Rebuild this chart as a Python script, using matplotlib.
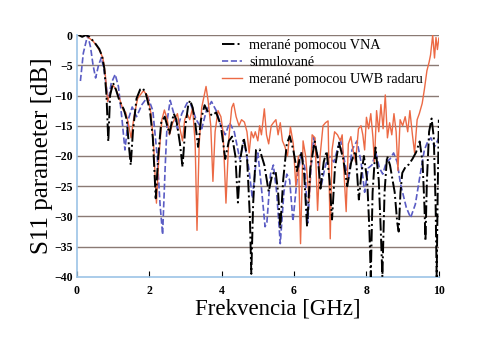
import matplotlib
matplotlib.use('Agg')
import matplotlib.pyplot as plt
import numpy as np

# S11 merane pomocou VNA
vna_f = [0.05, 0.15, 0.25, 0.35, 0.5, 0.62, 0.7, 0.76, 0.82, 0.87, 0.92, 1.0, 1.08, 1.18, 1.3,
         1.38, 1.45, 1.49, 1.55, 1.65, 1.75, 1.82, 1.9, 2.02, 2.1, 2.18, 2.25, 2.33, 2.43, 2.52,
         2.56, 2.62, 2.68, 2.75, 2.85, 2.92, 3.0, 3.08, 3.13, 3.2, 3.27, 3.35, 3.43, 3.53, 3.6,
         3.73, 3.85, 3.98, 4.1, 4.2, 4.29, 4.38, 4.45, 4.53, 4.61, 4.7, 4.78, 4.82, 4.87, 4.95,
         5.05, 5.18, 5.3, 5.4, 5.49, 5.56, 5.62, 5.7, 5.8, 5.88, 5.98, 6.08, 6.2, 6.28, 6.36,
         6.45, 6.57, 6.66, 6.73, 6.82, 6.9, 6.98, 7.05, 7.13, 7.24, 7.36, 7.47, 7.58, 7.7, 7.79,
         7.86, 7.93, 8.02, 8.08, 8.12, 8.17, 8.25, 8.34, 8.4, 8.44, 8.5, 8.57, 8.65, 8.78, 8.85,
         8.89, 8.94, 8.99, 9.08, 9.17, 9.27, 9.37, 9.47, 9.55, 9.6, 9.63, 9.67, 9.73, 9.8, 9.86,
         9.91, 9.94, 9.97, 10.0]
vna_db = [0, -0.3, 0, -0.3, -1.3, -2.3, -3.5, -5.5, -10, -17.6, -10, -7.9, -9, -10.9, -12.3,
          -14, -19, -21.5, -16, -10.5, -9, -8.8, -9.5, -12.5, -17, -27, -20, -14.5, -13.5, -15.5,
          -16.3, -14.5, -13, -14, -18, -21.8, -15, -11.5, -10.8, -12, -14.5, -18.5, -14, -11.6, -12.5,
          -13.3, -12.8, -15, -20.5, -17.5, -16.8, -20, -27.7, -20, -17, -20, -30, -39.5, -28, -19,
          -18.9, -21.5, -25.9, -23, -22.5, -26, -32, -24, -18, -16.7, -19, -22.5, -19.3, -23, -31.7,
          -22, -17.6, -20.5, -25.4, -21, -19.2, -24, -30.5, -22, -17.8, -20.5, -25, -21, -19.2, -27.2,
          -23, -20, -24, -32, -40, -26, -18.6, -24, -33, -40, -26, -20, -21.5, -26, -31,
          -32.5, -26, -22.8, -21.8, -21.4, -20.5, -19.4, -17.6, -21, -28, -34, -24, -16, -13.8, -17,
          -28, -40, -25, -14]

# simulovane
sim_f = [0.1, 0.18, 0.3, 0.38, 0.45, 0.52, 0.6, 0.68, 0.76, 0.87, 0.95, 1.06, 1.15, 1.25, 1.33,
         1.42, 1.53, 1.65, 1.8, 1.96, 2.1, 2.22, 2.3, 2.37, 2.44, 2.5, 2.58, 2.68, 2.78, 2.9,
         3.05, 3.15, 3.3, 3.45, 3.58, 3.72, 3.85, 3.98, 4.1, 4.22, 4.35, 4.5, 4.62, 4.75, 4.85,
         4.95, 5.0, 5.08, 5.2, 5.25, 5.35, 5.43, 5.52, 5.62, 5.72, 5.8, 5.88, 5.97, 6.08, 6.2,
         6.3, 6.38, 6.47, 6.54, 6.65, 6.75, 6.85, 6.95, 7.1, 7.28, 7.4, 7.5, 7.6, 7.74, 7.85,
         7.95, 8.05, 8.15, 8.26, 8.36, 8.45, 8.55, 8.65, 8.75, 8.85, 8.94, 9.1, 9.22, 9.35, 9.5,
         9.6, 9.7, 9.78, 9.88, 10.0]
sim_db = [-7.6, -3, 0, -2, -5, -7.1, -5, -3.7, -6, -10.9, -8, -6.5, -8.5, -14, -19,
          -14, -11.9, -13.5, -11.5, -10.2, -12.5, -20, -28, -33, -22, -14, -10.8, -13, -15.5, -13,
          -11.2, -11.5, -14, -15.5, -12.5, -11, -12.5, -15, -16.5, -14.5, -16, -20.5, -17.5, -22, -27,
          -21, -19.5, -24, -31.7, -31, -23, -21.5, -26, -34.5, -26, -23, -24, -30.8, -24, -19.5,
          -22, -31, -22, -16.9, -20, -25, -22, -20, -21, -17.2, -21, -24, -19, -17.5, -21,
          -26, -22, -21.5, -19.5, -22, -23, -21, -20.5, -19.5, -21, -24.6, -28.5, -30.2, -28, -22.5,
          -19, -17.5, -17, -18.5, -17]

# merane pomocou UWB radaru
uwb_f = [0.3, 0.45, 0.55, 0.65, 0.72, 0.78, 0.85, 0.9, 1.0, 1.08, 1.18, 1.28, 1.35, 1.42, 1.5,
         1.58, 1.68, 1.84, 1.95, 2.05, 2.12, 2.2, 2.27, 2.35, 2.42, 2.5, 2.56, 2.65, 2.78, 2.85,
         2.92, 2.98, 3.05, 3.12, 3.2, 3.27, 3.32, 3.38, 3.45, 3.52, 3.57, 3.63, 3.7, 3.76, 3.82,
         3.9, 3.98, 4.04, 4.12, 4.2, 4.28, 4.33, 4.4, 4.48, 4.55, 4.63, 4.7, 4.76, 4.82, 4.88,
         4.93, 5.0, 5.05, 5.1, 5.18, 5.24, 5.3, 5.37, 5.43, 5.5, 5.56, 5.62, 5.68, 5.75, 5.82,
         5.9, 5.98, 6.05, 6.12, 6.18, 6.25, 6.32, 6.42, 6.5, 6.58, 6.65, 6.72, 6.8, 6.87, 6.94,
         7.0, 7.05, 7.12, 7.2, 7.28, 7.33, 7.4, 7.44, 7.5, 7.57, 7.63, 7.7, 7.78, 7.85, 7.9,
         7.95, 8.0, 8.06, 8.12, 8.18, 8.22, 8.28, 8.34, 8.4, 8.46, 8.52, 8.58, 8.64, 8.7, 8.76,
         8.82, 8.87, 8.93, 9.0, 9.07, 9.14, 9.2, 9.27, 9.33, 9.4, 9.46, 9.54, 9.6, 9.67, 9.73,
         9.77, 9.83, 9.88, 9.92, 9.96, 10.0]
uwb_db = [-0.3, -1, -1.8, -2.8, -3.8, -6, -11, -10, -8.3, -9, -10.5, -12.4, -12.8, -14.5, -17,
          -13.5, -10.5, -9.2, -10, -13, -18, -27.8, -20, -14, -12.4, -14, -16.5, -14.5, -13, -15.5,
          -17.5, -14, -13, -14, -12, -18, -32.3, -18, -12, -10, -8.5, -11, -15, -24.2, -16,
          -12.5, -13.5, -16, -27.8, -17, -12, -11.3, -13.5, -15, -14, -14.4, -16, -19.5, -16, -17,
          -16, -17.5, -15, -16.5, -12.2, -16.5, -18, -15, -14.5, -14, -16.5, -14.5, -17.5, -18.5, -20,
          -15.2, -18, -25, -20, -34.5, -17.5, -20, -27.5, -16.5, -17, -29, -20, -15, -14.5, -14.2,
          -33.7, -19, -16, -16.5, -17.5, -16.5, -25, -29.2, -18, -16.8, -19, -21, -15.5, -15, -16.5,
          -19, -13.6, -15.5, -13, -17, -21, -12.5, -16, -11.5, -15.5, -9.9, -17, -14.5, -16.5, -13,
          -16, -22.4, -14, -15, -13.5, -16, -12.5, -16.5, -19.5, -14, -13, -11.3, -9, -5.9, -4.5,
          -3.3, 0, -3.8, -0.4, -2.4, -0.5]

y_ticks = [0, -5, -10, -15, -20, -25, -30, -35, -40]
x_ticks = [0, 2, 4, 6, 8, 10]

plt.rcParams['font.family'] = ['Liberation Serif', 'DejaVu Serif']

fig = plt.figure(figsize=(4.86, 3.47), dpi=100)
ax = fig.add_axes([0.158, 0.202, 0.745, 0.697])

for y in y_ticks[:-1]:
    ax.axhline(y, color='#8a7a74', lw=1.0, zorder=1)

ax.plot(vna_f, vna_db, color='black', ls='-.', lw=1.4, label='merané pomocou VNA', zorder=3)
ax.plot(sim_f, sim_db, color='#5a5cc4', ls='--', lw=1.2, label='simulované', zorder=2)
ax.plot(uwb_f, uwb_db, color='#ec6a45', ls='-', lw=1.0, label='merané pomocou UWB radaru', zorder=2)

ax.set_xlim(0, 10)
ax.set_ylim(-40, 0)
ax.set_xticks(x_ticks)
ax.set_yticks(y_ticks)
ax.tick_params(axis='x', direction='in', length=4, width=0.8, colors='black', pad=6)
ax.tick_params(axis='y', length=0, pad=3)
for lab in ax.get_xticklabels() + ax.get_yticklabels():
    lab.set_fontweight('bold')
    lab.set_fontsize(8.5)

for s in ['top', 'right']:
    ax.spines[s].set_visible(False)
ax.spines['left'].set_color('#9cc4e6')
ax.spines['bottom'].set_color('#9cc4e6')
ax.spines['left'].set_linewidth(1.2)
ax.spines['bottom'].set_linewidth(1.2)

ax.set_xlabel('Frekvencia [GHz]', fontsize=16.5, labelpad=1)
ax.xaxis.set_label_coords(0.555, -0.09)
ax.set_ylabel('S11 parameter [dB]', fontsize=18, labelpad=1)

ax.legend(loc='upper left', bbox_to_anchor=(0.375, 1.025), frameon=False, fontsize=10.2,
          handlelength=1.35, handletextpad=0.55, labelspacing=0.3, borderpad=0.2)

fig.savefig('out.png', dpi=100)
